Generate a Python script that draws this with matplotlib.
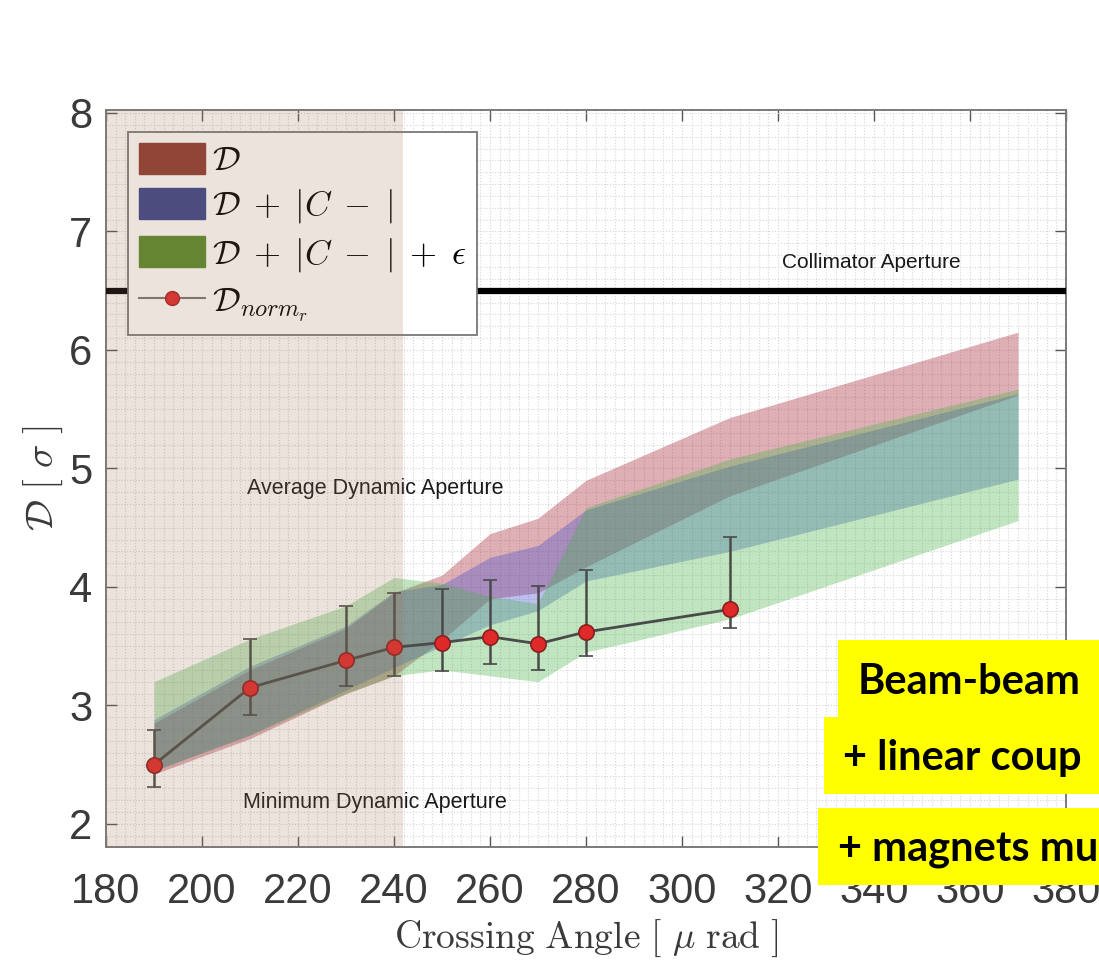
import matplotlib
matplotlib.use("Agg")
import matplotlib.pyplot as plt
import matplotlib.ticker as mticker
from matplotlib.patches import Patch, Rectangle
from matplotlib.lines import Line2D
import numpy as np

plt.rcParams['mathtext.fontset'] = 'cm'
plt.rcParams['font.family'] = ['Liberation Sans', 'DejaVu Sans']

# crossing angles where the scans were done
angles = [190, 210, 230, 240, 250, 260, 270, 280, 310, 370]

# D band
d_hi = [2.85, 3.30, 3.65, 3.95, 4.10, 4.45, 4.58, 4.90, 5.43, 6.15]
d_lo = [2.42, 2.72, 3.10, 3.25, 3.55, 3.90, 3.95, 4.17, 4.77, 5.62]
# D + |C-| band
dc_hi = [2.88, 3.33, 3.67, 3.96, 4.02, 4.25, 4.35, 4.65, 5.02, 5.63]
dc_lo = [2.45, 2.75, 3.13, 3.32, 3.50, 3.68, 3.80, 4.05, 4.30, 4.91]
# D + |C-| + eps band
dce_hi = [3.20, 3.56, 3.84, 4.08, 4.03, 3.92, 3.86, 4.67, 5.08, 5.67]
dce_lo = [2.45, 2.75, 3.10, 3.25, 3.30, 3.25, 3.20, 3.45, 3.73, 4.56]

# normalised DA with spread
norm_x = [190, 210, 230, 240, 250, 260, 270, 280, 310]
norm_y = [2.50, 3.15, 3.38, 3.49, 3.53, 3.58, 3.52, 3.62, 3.81]
norm_top = [2.79, 3.56, 3.84, 3.95, 3.98, 4.06, 4.01, 4.14, 4.42]
norm_bot = [2.31, 2.92, 3.16, 3.25, 3.29, 3.35, 3.30, 3.42, 3.65]

collimator = 6.5
xticks = list(range(180, 381, 20))
yticks = [2, 3, 4, 5, 6, 7, 8]

W, H = 1099, 963
fig = plt.figure(figsize=(W / 100, H / 100), dpi=100)
ax = fig.add_axes([106 / W, (H - 847) / H, 960 / W, 737 / H])

red = (0.63, 0.10, 0.16)
blue = (0.24, 0.28, 0.80)
green = (0.28, 0.70, 0.28)
a = 0.34
ax.fill_between(angles, d_lo, d_hi, color=red, alpha=a, lw=0, zorder=2)
ax.fill_between(angles, dc_lo, dc_hi, color=blue, alpha=a, lw=0, zorder=2)
ax.fill_between(angles, dce_lo, dce_hi, color=green, alpha=a, lw=0, zorder=2)

ax.axhline(collimator, color='black', lw=4.5, zorder=3)

y = np.array(norm_y)
yerr = [y - np.array(norm_bot), np.array(norm_top) - y]
ax.errorbar(norm_x, norm_y, yerr=yerr, fmt='-o', color='#4a4a4a', lw=2,
            elinewidth=1.8, capsize=5, capthick=1.8, ms=11,
            mfc='#e02a2a', mec='#8a1f1f', mew=1.2, zorder=4)

ax.text(339.5, 6.74, 'Collimator Aperture', fontsize=15, ha='center', va='center', color='#1a1a1a')
ax.text(236, 4.83, 'Average Dynamic Aperture', fontsize=15.5, ha='center', va='center', color='#1a1a1a')
ax.text(236, 2.18, 'Minimum Dynamic Aperture', fontsize=15.5, ha='center', va='center', color='#1a1a1a')

ax.set_xlim(180, 380)
ax.set_ylim(1.805, 8.025)
ax.set_xticks(xticks)
ax.set_yticks(yticks)
ax.xaxis.set_minor_locator(mticker.MultipleLocator(2))
ax.yaxis.set_minor_locator(mticker.MultipleLocator(0.1))
ax.grid(which='both', color='#d6d6d6', ls=':', lw=0.8)
ax.set_axisbelow(True)
ax.tick_params(which='major', direction='in', top=True, right=True, length=8,
               width=1, color='#555555', labelsize=30, labelcolor='#3a3a3a')
ax.tick_params(axis='x', pad=18)
ax.tick_params(axis='y', pad=10)
ax.tick_params(which='minor', length=0)
for s in ax.spines.values():
    s.set_color('#7a7a7a')
    s.set_linewidth(1.4)

ax.set_xlabel(r'$\mathrm{Crossing\ Angle}\ [\ \mu\ \mathrm{rad}\ ]$', fontsize=27,
              color='#3a3a3a', labelpad=4)
ax.set_ylabel(r'$\mathcal{D}\ [\ \sigma\ ]$', fontsize=28, color='#3a3a3a', labelpad=3)

handles = [
    Patch(facecolor='#8e3a2e', edgecolor='#8e3a2e'),
    Patch(facecolor='#384389', edgecolor='#384389'),
    Patch(facecolor='#578a2a', edgecolor='#578a2a'),
    Line2D([], [], color='#777777', lw=1.5, marker='o', ms=10, mfc='#e02a2a', mec='#a02020'),
]
labels = [r'$\mathcal{D}$', r'$\mathcal{D}\;+\;|C\;-\;|$', r'$\mathcal{D}\;+\;|C\;-\;|\;+\;\epsilon$',
          r'$\mathcal{D}_{norm_r}$']
leg = ax.legend(handles, labels, loc='upper left', fontsize=25, fancybox=False,
                framealpha=1, edgecolor='#777777', borderaxespad=0.62,
                handlelength=1.9, handleheight=1.0, handletextpad=0.2,
                labelspacing=0.3, borderpad=0.32)
leg.get_frame().set_linewidth(1.3)

# shaded low-angle region laid over everything in the axes
ax.add_patch(Rectangle((180, 0), 61.9, 1, transform=ax.get_xaxis_transform(),
                       facecolor=(0.63, 0.45, 0.35), alpha=0.2, lw=0, zorder=6))

# yellow annotation boxes on the right, running off the page edge
boxes = [(838, 640, 718), (824, 717, 794), (818, 808, 885)]
for x0, top, bot in boxes:
    fig.add_artist(Rectangle((x0 / W, (H - bot) / H), 1, (bot - top) / H,
                             transform=fig.transFigure, facecolor='#ffff00',
                             lw=0, zorder=10))
notes = [('Beam-beam', 858, 682), ('+ linear coup', 843, 758),
         ('+ magnets mu', 838, 850)]
for txt, x0, yc in notes:
    fig.text(x0 / W, (H - yc) / H, txt, fontsize=30, fontweight='bold',
             family='Lato', ha='left', va='center', color='black', zorder=11)

fig.savefig('out.png', dpi=100)
